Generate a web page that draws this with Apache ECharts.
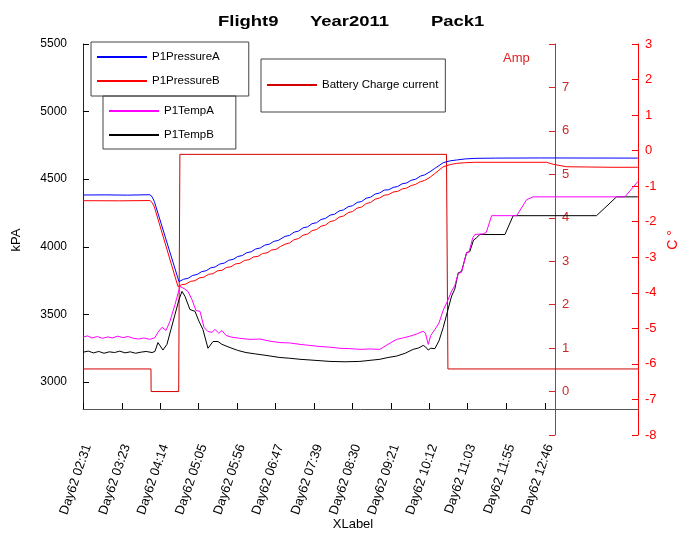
<!DOCTYPE html>
<html>
<head>
<meta charset="utf-8">
<script src="https://cdn.jsdelivr.net/npm/echarts@6/dist/echarts.min.js"></script>
<style>
  html, body { margin: 0; padding: 0; background: #fff; }
  #chart { width: 692px; height: 534px; }
</style>
</head>
<body>
<div id="chart"></div>
<script>
const FONT = '"Liberation Sans", Arial, Helvetica, sans-serif';

// Title words
const titleParts = ['Flight9', 'Year2011', 'Pack1'];

// Time axis: tick labels (time of day), values in minutes since midnight
const tickLabels = ['Day62 02:31', 'Day62 03:23', 'Day62 04:14', 'Day62 05:05', 'Day62 05:56',
  'Day62 06:47', 'Day62 07:39', 'Day62 08:30', 'Day62 09:21', 'Day62 10:12',
  'Day62 11:03', 'Day62 11:55', 'Day62 12:46'];
const timeEnd = 890;

// Pressure axis ticks (kPa)
const kpaTicks = [3000, 3500, 4000, 4500, 5000, 5500];

// Pack pressures, [minute, kPa]
const pressureA = [[151,4383],[180,4384],[210,4382],[240,4385],[243,4370],[246,4335],[278.8,3742],
  [285,3760],[291,3767],[297,3788],[303,3795],[309,3816],[315,3823],[321,3844],[327,3851],[333,3872],[339,3879],
  [345,3900],[351,3907],[357,3928],[363,3935],[369,3956],[375,3963],[381,3984],[387,3991],[393,4012],[399,4019],
  [405,4040],[411,4047],[420,4077],[426,4084],[432,4108],[438,4116],[444,4140],[450,4147],[456,4171],[462,4178],
  [468,4202],[474,4210],[480,4234],[486,4241],[492,4265],[498,4273],[504,4296],[510,4304],[516,4328],[522,4335],
  [528,4359],[534,4367],[540,4390],[546,4398],[552,4419],[558,4422],[564,4439],[570,4446],[576,4466],[582,4472],
  [588,4492],[594,4500],[600,4522],[606,4532],[613,4555],[619,4578],[625,4600],[630.6,4622],[640,4636],
  [648.5,4642],[660,4650],[672.8,4654],[700,4656],[760,4657],[889.8,4656]];

const pressureB = [[151,4341],[200,4340],[240,4342],[243,4328],[246,4295],[277.5,3705],
  [282,3719],[288,3724],[294,3744],[300,3749],[306,3770],[312,3775],[318,3796],[324,3801],[330,3822],[336,3826],
  [342,3847],[348,3852],[354,3873],[360,3878],[366,3899],[372,3904],[378,3925],[384,3929],[390,3950],[396,3955],
  [402,3976],[408,3981],[414,4002],[420,4019],[426,4028],[432,4052],[438,4061],[444,4086],[450,4094],[456,4119],
  [462,4128],[468,4152],[474,4161],[480,4186],[486,4194],[492,4219],[498,4228],[504,4252],[510,4261],[516,4286],
  [522,4294],[528,4319],[534,4328],[540,4352],[546,4361],[552,4381],[558,4386],[564,4405],[570,4410],[576,4428],
  [582,4434],[588,4453],[594,4462],[600,4481],[606,4491],[613,4514],[619,4540],[625,4566],[630.6,4592],[640,4608],
  [648.5,4617],[660,4622],[672.8,4625],[768.3,4625],[777.1,4610],[794.9,4592],[856.9,4588],[889.8,4588]];

// Pack temperatures, [minute, °C]
const tempA = [[151,-5.25],[157,-5.21],[163,-5.27],[170,-5.23],[177,-5.28],[184,-5.24],[190,-5.27],[197,-5.22],
  [204,-5.26],[211,-5.23],[218,-5.28],[225,-5.30],[232,-5.27],[240,-5.31],[246.8,-5.26],[250.8,-5.11],[256.2,-4.97],
  [261.5,-5.06],[266.8,-4.80],[273.5,-4.33],[280.1,-3.82],[285.5,-3.88],[290.8,-3.96],[296.1,-4.19],[301.4,-4.50],
  [306.8,-4.52],[312.1,-4.97],[317.4,-5.09],[322.7,-5.11],[326.7,-5.03],[332.0,-5.14],[336.0,-5.06],[341.4,-5.20],
  [349.4,-5.25],[360,-5.28],[373.3,-5.31],[386.6,-5.30],[399.9,-5.36],[413.2,-5.40],[426,-5.41],[439.9,-5.45],
  [453,-5.48],[466.5,-5.51],[480,-5.53],[493.1,-5.56],[506,-5.57],[519.7,-5.59],[533,-5.58],[546.4,-5.59],
  [557,-5.45],[568.6,-5.31],[577,-5.27],[586.3,-5.22],[595,-5.16],[604,-5.08],[607,-5.14],[610.7,-5.45],
  [614,-5.20],[619.6,-5.03],[625,-4.85],[630.6,-4.49],[636,-4.25],[641.8,-3.95],[646,-3.80],[650.6,-3.46],
  [655,-3.42],[661.8,-2.87],[665,-2.85],[670,-2.45],[672.8,-2.36],[683.9,-2.34],[688,-2.30],[695.1,-1.83],
  [728.4,-1.83],[741.7,-1.38],[750.4,-1.30],[872.5,-1.30],[889.8,-0.87]];

const tempB = [[151,-5.67],[158,-5.64],[165,-5.69],[172,-5.65],[179,-5.70],[186,-5.66],[193,-5.68],[200,-5.64],
  [207,-5.69],[214,-5.66],[221,-5.70],[228,-5.67],[235,-5.65],[242.9,-5.68],[246.8,-5.65],[250.8,-5.40],[253,-5.37],
  [257.5,-5.61],[262.8,-5.45],[268.1,-5.03],[273.5,-4.61],[278.8,-4.19],[282.8,-3.96],[286.8,-4.10],[293.4,-4.47],
  [300.1,-4.52],[305.4,-4.80],[310.7,-5.03],[317.4,-5.56],[324.1,-5.37],[330.7,-5.37],[336.0,-5.45],[346.7,-5.54],
  [357,-5.62],[368.0,-5.68],[381,-5.72],[394.6,-5.76],[413.2,-5.82],[426,-5.84],[439.9,-5.87],[460,-5.90],
  [479.8,-5.93],[500,-5.94],[519.7,-5.93],[533,-5.90],[546.4,-5.87],[557,-5.82],[568.6,-5.78],[580,-5.70],
  [590.7,-5.59],[598,-5.55],[604,-5.48],[607,-5.52],[610.7,-5.61],[614,-5.56],[619.6,-5.57],[625,-5.35],
  [630.6,-4.98],[636,-4.55],[641.8,-4.09],[646,-3.90],[650.6,-3.44],[655,-3.40],[661.8,-2.87],[666,-2.84],
  [671,-2.52],[675.1,-2.45],[679.5,-2.36],[712.8,-2.36],[723.8,-1.83],[834.7,-1.83],[845.9,-1.61],[861.4,-1.30],
  [889.8,-1.30]];

// Battery charge current, [minute, A]
const batteryCurrent = [[151,0.52],[241.5,0.52],[241.7,0],[278.4,0],[280,5.46],[635,5.46],[636.9,0.52],[890,0.52]];

// ---- derived axis values ----
const tickValues = tickLabels.map(s => {
  const [h, m] = s.split(' ')[1].split(':').map(Number);
  return h * 60 + m;
});
const tickLabelByValue = new Map(tickValues.map((v, i) => [v, tickLabels[i]]));
const timeStart = tickValues[0];

const AMP_COLOR = '#cc2a2a';
const C_COLOR = '#ff0000';

const chart = echarts.init(document.getElementById('chart'), null, { renderer: 'canvas' });

function lineSeries(name, data, color, xi, yi) {
  return {
    name, type: 'line', data, xAxisIndex: xi, yAxisIndex: yi,
    symbol: 'none', showSymbol: false, smooth: false, silent: true,
    lineStyle: { color, width: 1 }, itemStyle: { color },
    emphasis: { disabled: true }
  };
}

// legend entries show only the line sample, no marker
const legendBase = {
  orient: 'vertical', itemWidth: 50, itemHeight: 14, itemGap: 12,
  borderColor: '#444', borderWidth: 1, borderRadius: 0, selectedMode: false,
  itemStyle: { opacity: 0, color: 'rgba(0,0,0,0)', borderWidth: 0 },
  textStyle: { fontSize: 11.5, fontFamily: FONT, color: '#000' }
};

const option = {
  animation: false,
  backgroundColor: '#fff',
  textStyle: { fontFamily: FONT },
  grid: [
    { left: 83, top: 44, width: 555, height: 365, outerBoundsMode: 'none', containLabel: false },
    { left: 83, top: 44, width: 555, height: 391, outerBoundsMode: 'none', containLabel: false }
  ],
  xAxis: [
    {
      gridIndex: 0, type: 'value', min: timeStart, max: timeEnd,
      axisLine: { show: true, onZero: false, lineStyle: { color: '#555', width: 1 } },
      axisTick: { show: true, inside: true, length: 6, customValues: tickValues, lineStyle: { color: '#000' } },
      axisLabel: {
        customValues: tickValues, rotate: 71, margin: 34, align: 'right', verticalAlign: 'top',
        lineHeight: 10, fontSize: 13, fontFamily: FONT, color: '#000',
        formatter: v => tickLabelByValue.get(v) || ''
      },
      splitLine: { show: false }
    },
    { gridIndex: 1, type: 'value', min: timeStart, max: timeEnd, show: false }
  ],
  yAxis: [
    {
      gridIndex: 0, type: 'value', position: 'left', min: 2800, max: 5500,
      axisLine: { show: true, onZero: false, lineStyle: { color: '#222', width: 1 } },
      axisTick: { show: true, inside: true, length: 6, customValues: kpaTicks, lineStyle: { color: '#000' } },
      axisLabel: { customValues: kpaTicks, margin: 16, fontSize: 12, fontFamily: FONT, color: '#000',
        formatter: v => String(v) },
      splitLine: { show: false }
    },
    {
      gridIndex: 1, type: 'value', position: 'right', offset: -83, min: -1, max: 8, interval: 1,
      axisLine: { show: true, onZero: false, lineStyle: { color: AMP_COLOR, width: 1 } },
      axisTick: { show: true, inside: true, length: 6, lineStyle: { color: AMP_COLOR } },
      axisLabel: {
        margin: 7, fontSize: 13, fontFamily: FONT, color: AMP_COLOR,
        formatter: v => (v < 0 || v > 7) ? '' : String(v)
      },
      splitLine: { show: false }
    },
    {
      gridIndex: 1, type: 'value', position: 'right', min: -8, max: 3, interval: 1,
      axisLine: { show: true, onZero: false, lineStyle: { color: C_COLOR, width: 1 } },
      axisTick: { show: true, inside: true, length: 6, lineStyle: { color: C_COLOR } },
      axisLabel: { margin: 7, fontSize: 13, fontFamily: FONT, color: C_COLOR, formatter: v => String(v) },
      splitLine: { show: false }
    }
  ],
  legend: [
    Object.assign({}, legendBase, { data: ['P1PressureA', 'P1PressureB'], left: 91, top: 42, padding: [9, 29, 9, 5] }),
    Object.assign({}, legendBase, { data: ['P1TempA', 'P1TempB'], left: 103, top: 96, padding: [9, 22, 8, 5] }),
    Object.assign({}, legendBase, { data: ['Battery Charge current'], left: 261, top: 59, padding: [20, 7, 21, 5] })
  ],
  series: [
    lineSeries('Battery Charge current', batteryCurrent, '#d40000', 1, 1),
    lineSeries('P1TempB', tempB, '#000000', 1, 2),
    lineSeries('P1TempA', tempA, '#ff00ff', 1, 2),
    lineSeries('P1PressureB', pressureB, '#ff0000', 0, 0),
    lineSeries('P1PressureA', pressureA, '#0000ff', 0, 0)
  ],
  graphic: [
    { type: 'text', x: 218, y: 22, scaleX: 1.23, silent: true,
      style: { text: titleParts[0], fontSize: 15, fontWeight: 'bold', fontFamily: FONT, fill: '#000', align: 'left', verticalAlign: 'middle' } },
    { type: 'text', x: 310, y: 22, scaleX: 1.23, silent: true,
      style: { text: titleParts[1], fontSize: 15, fontWeight: 'bold', fontFamily: FONT, fill: '#000', align: 'left', verticalAlign: 'middle' } },
    { type: 'text', x: 431, y: 22, scaleX: 1.23, silent: true,
      style: { text: titleParts[2], fontSize: 15, fontWeight: 'bold', fontFamily: FONT, fill: '#000', align: 'left', verticalAlign: 'middle' } },
    { type: 'text', x: 503, y: 58, silent: true,
      style: { text: 'Amp', fontSize: 13, fontFamily: FONT, fill: '#e02020', align: 'left', verticalAlign: 'middle' } },
    { type: 'text', x: 16, y: 240, rotation: Math.PI / 2, silent: true,
      style: { text: 'kPA', fontSize: 13, fontFamily: FONT, fill: '#000', align: 'center', verticalAlign: 'middle' } },
    { type: 'text', x: 673, y: 240, rotation: Math.PI / 2, silent: true,
      style: { text: 'C °', fontSize: 14, fontFamily: FONT, fill: C_COLOR, align: 'center', verticalAlign: 'middle' } },
    { type: 'text', x: 353, y: 524, silent: true,
      style: { text: 'XLabel', fontSize: 13, fontFamily: FONT, fill: '#000', align: 'center', verticalAlign: 'middle' } }
  ]
};

chart.setOption(option);
</script>
</body>
</html>
